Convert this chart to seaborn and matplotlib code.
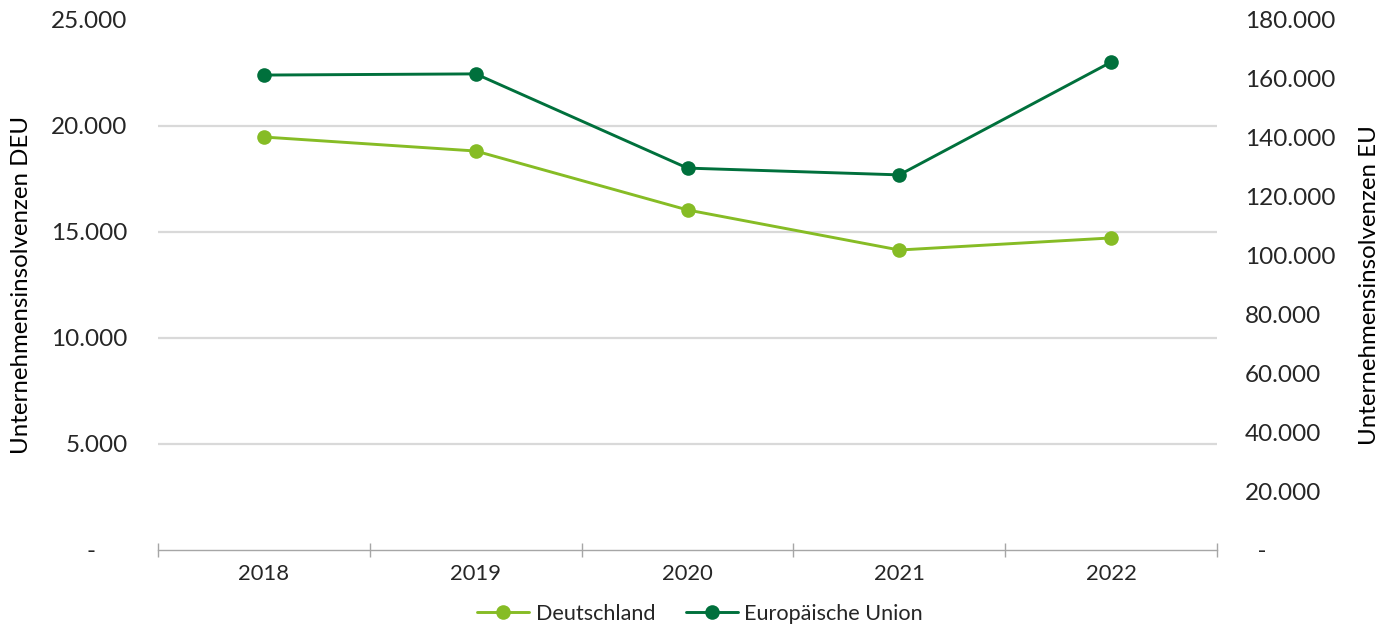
import matplotlib
matplotlib.use("Agg")
import matplotlib.pyplot as plt
import seaborn as sns
import pandas as pd
from matplotlib.ticker import FixedLocator, FuncFormatter

years = ["2018", "2019", "2020", "2021", "2022"]
deu = [19480, 18820, 16040, 14150, 14720]
eu = [161300, 161700, 129700, 127400, 165700]
left_ticks = [0, 5000, 10000, 15000, 20000, 25000]
right_ticks = [0, 20000, 40000, 60000, 80000, 100000, 120000, 140000, 160000, 180000]

c_deu = "#86bc25"
c_eu = "#00703c"

sns.set_theme(style="white")
plt.rcParams["font.family"] = ["Lato", "DejaVu Sans"]

fig = plt.figure(figsize=(13.81, 6.27), dpi=100)
ax = fig.add_axes([158/1381, 1-550/627, (1217-158)/1381, (550-20)/627])
ax2 = ax.twinx()

df_deu = pd.DataFrame({"x": range(len(years)), "y": deu})
df_eu = pd.DataFrame({"x": range(len(years)), "y": eu})

sns.lineplot(data=df_deu, x="x", y="y", ax=ax, color=c_deu, marker="o",
             markersize=10.5, markeredgewidth=0, linewidth=2.1, label="Deutschland", legend=False)
sns.lineplot(data=df_eu, x="x", y="y", ax=ax2, color=c_eu, marker="o",
             markersize=10.5, markeredgewidth=0, linewidth=2.1, label="Europäische Union", legend=False)

def fmt(v):
    return f"{int(v):,}".replace(",", ".")

ax.set_xlim(-0.5, 4.5)
ax.set_ylim(0, 25000)
ax2.set_ylim(0, 180000)
ax.yaxis.set_major_locator(FixedLocator(left_ticks))
ax2.yaxis.set_major_locator(FixedLocator(right_ticks))
ax.yaxis.set_major_formatter(FuncFormatter(lambda v, p: "-     " if v == 0 else fmt(v)))
ax2.yaxis.set_major_formatter(FuncFormatter(lambda v, p: "  -" if v == 0 else fmt(v)))

ax.set_xticks(range(len(years)))
ax.set_xticklabels(years)
ax.set_xticks([i - 0.5 for i in range(len(years) + 1)], minor=True)
ax.tick_params(axis="x", which="major", bottom=True, length=0, pad=10, labelsize=15.8, labelcolor="#262626")
ax.tick_params(axis="x", which="minor", bottom=True, length=10, width=1, direction="inout", color="#a6a6a6")
ax.tick_params(axis="y", length=0, pad=22, labelsize=17.5, labelcolor="#262626")
ax2.tick_params(axis="y", length=0, pad=20, labelsize=17.5, labelcolor="#262626")

# gridlines (no line at top)
for v in left_ticks[1:-1]:
    ax.axhline(v, color="#d9d9d9", linewidth=1.6, zorder=0)

for a in (ax, ax2):
    for s in ("top", "right", "left"):
        a.spines[s].set_visible(False)
ax2.spines["bottom"].set_visible(False)
ax.spines["bottom"].set_color("#a6a6a6")
ax.spines["bottom"].set_linewidth(1)

ax.set_xlabel("")
ax.set_ylabel("Unternehmensinsolvenzen DEU", fontsize=17.3, color="#000000", va="center")
ax2.set_ylabel("Unternehmensinsolvenzen EU", fontsize=17.3, color="#000000", va="center")
w = 1217 - 158
ax.yaxis.set_label_coords((22 - 158) / w, 0.5)
ax2.yaxis.set_label_coords((1370 - 158) / w, 0.5)

h1, l1 = ax.get_legend_handles_labels()
h2, l2 = ax2.get_legend_handles_labels()
fig.legend(h1 + h2, l1 + l2, loc="center", bbox_to_anchor=(700/1381, 1-614/627), ncol=2,
           frameon=False, fontsize=15.6, handlelength=2.4, columnspacing=1.4, handletextpad=0.3,
           labelcolor="#262626")

ax.set_zorder(1)
ax2.set_zorder(2)
ax.patch.set_visible(False)
ax2.patch.set_visible(False)

fig.savefig("out.png", dpi=100)
